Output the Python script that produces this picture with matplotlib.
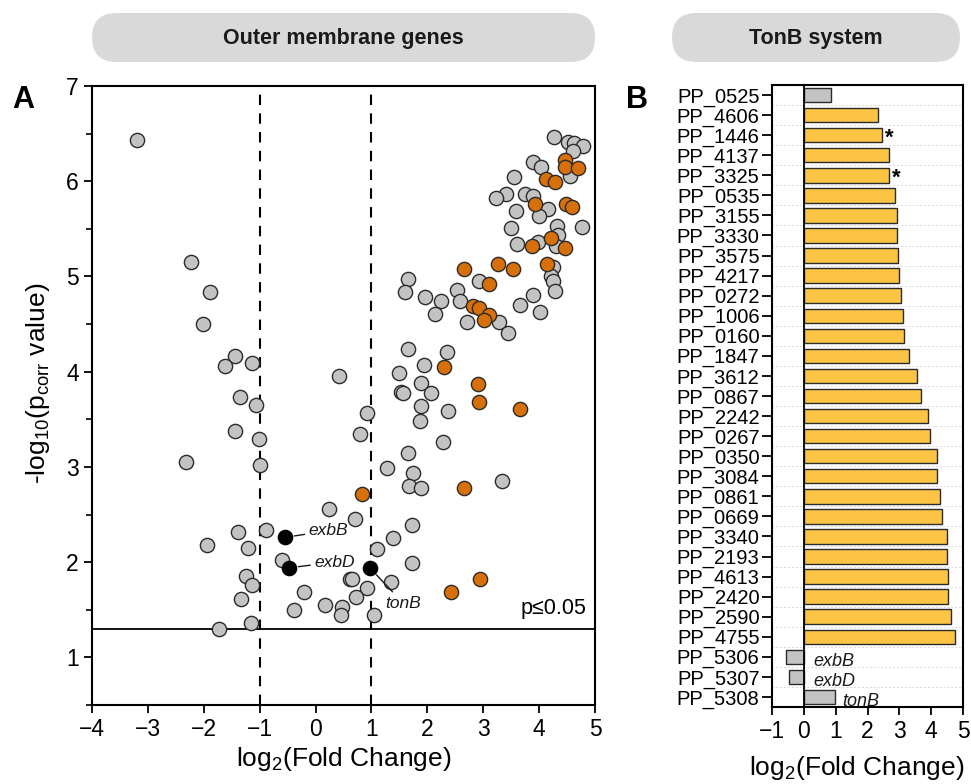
import numpy as np
import matplotlib
matplotlib.use("Agg")
import matplotlib.pyplot as plt
from matplotlib.patches import FancyBboxPatch

plt.rcParams['font.family'] = ['Liberation Sans', 'DejaVu Sans']
plt.rcParams['mathtext.fontset'] = 'custom'
plt.rcParams['mathtext.rm'] = 'Liberation Sans'
plt.rcParams['mathtext.it'] = 'Liberation Sans:italic'

# --- panel A: volcano points (log2 FC, -log10 p) ---
gray_x = [-3.19, -2.22, -1.88, -2.02, -1.44, -1.62, -1.14, 0.42, -1.35, -1.06,
          -1.44, -1.02, -2.31, -1.00, 0.24, -1.39, -0.89, -1.94, -1.20, -0.60,
          -1.25, -1.13, 0.62, -0.21, -1.34, -0.38, 0.17, 0.48, 0.46, -1.16,
          -1.73, 1.66, 2.36, 1.94, 1.49, 1.88, 1.52, 1.56, 2.07, 1.89,
          2.37, 0.92, 1.86, 0.80, 2.28, 1.65, 1.28, 1.74, 1.68, 1.88,
          3.34, 0.70, 1.73, 1.38, 1.10, 1.72, 0.65, 1.35, 0.92, 0.72,
          1.04, 4.26, 4.51, 4.63, 4.78, 4.60, 3.89, 4.03, 4.56, 3.55,
          3.40, 3.23, 3.74, 3.89, 4.16, 3.58, 3.99, 4.76, 3.50, 4.32,
          4.33, 3.98, 3.61, 4.31, 4.25, 4.22, 4.25, 4.29, 1.66, 1.60,
          1.95, 2.24, 2.13, 2.53, 2.58, 2.93, 2.71, 3.29, 3.44, 3.65,
          3.89, 4.01]
gray_y = [6.43, 5.15, 4.84, 4.50, 4.17, 4.06, 4.09, 3.96, 3.73, 3.65,
          3.38, 3.29, 3.05, 3.02, 2.56, 2.32, 2.34, 2.18, 2.15, 2.02,
          1.85, 1.76, 1.82, 1.69, 1.61, 1.50, 1.55, 1.53, 1.44, 1.36,
          1.30, 4.24, 4.21, 4.07, 3.99, 3.88, 3.79, 3.78, 3.78, 3.64,
          3.59, 3.57, 3.48, 3.35, 3.26, 3.15, 2.99, 2.94, 2.80, 2.78,
          2.85, 2.45, 2.39, 2.25, 2.14, 1.99, 1.82, 1.79, 1.73, 1.63,
          1.44, 6.46, 6.41, 6.40, 6.37, 6.32, 6.20, 6.15, 6.06, 6.04,
          5.87, 5.82, 5.87, 5.85, 5.71, 5.69, 5.63, 5.52, 5.51, 5.53,
          5.44, 5.36, 5.34, 5.32, 5.10, 5.00, 4.95, 4.85, 4.97, 4.84,
          4.78, 4.74, 4.61, 4.86, 4.74, 4.95, 4.52, 4.52, 4.41, 4.70,
          4.81, 4.63]

orange_x = [2.30, 2.90, 2.93, 3.65, 2.65, 0.83, 2.95, 2.43, 4.47, 4.47,
            4.70, 4.13, 4.29, 3.92, 4.48, 4.59, 4.22, 3.87, 4.47, 4.14,
            2.65, 3.26, 3.54, 3.10, 2.81, 2.92, 3.11, 3.02]
orange_y = [4.05, 3.87, 3.68, 3.61, 2.78, 2.72, 1.82, 1.69, 6.22, 6.15,
            6.14, 6.02, 5.99, 5.76, 5.76, 5.73, 5.40, 5.32, 5.30, 5.13,
            5.08, 5.13, 5.08, 4.92, 4.69, 4.67, 4.60, 4.54]

ton_names = ['exbB', 'exbD', 'tonB']
ton_x = [-0.55, -0.48, 0.97]
ton_y = [2.26, 1.94, 1.94]

# --- panel B: TonB-dependent receptors ---
genes = ['PP_0525', 'PP_4606', 'PP_1446', 'PP_4137', 'PP_3325', 'PP_0535',
         'PP_3155', 'PP_3330', 'PP_3575', 'PP_4217', 'PP_0272', 'PP_1006',
         'PP_0160', 'PP_1847', 'PP_3612', 'PP_0867', 'PP_2242', 'PP_0267',
         'PP_0350', 'PP_3084', 'PP_0861', 'PP_0669', 'PP_3340', 'PP_2193',
         'PP_4613', 'PP_2420', 'PP_2590', 'PP_4755', 'PP_5306', 'PP_5307',
         'PP_5308']
fold = [0.85, 2.32, 2.46, 2.68, 2.68, 2.85, 2.93, 2.92, 2.97, 3.00,
        3.05, 3.12, 3.14, 3.29, 3.56, 3.69, 3.91, 3.96, 4.17, 4.19,
        4.27, 4.33, 4.51, 4.51, 4.52, 4.52, 4.61, 4.76, -0.55, -0.46,
        0.99]
gray_genes = ['PP_0525', 'PP_5306', 'PP_5307', 'PP_5308']
starred = ['PP_1446', 'PP_3325']
bar_notes = {'PP_5306': 'exbB', 'PP_5307': 'exbD', 'PP_5308': 'tonB'}

GRAY = '#c3c3c3'
ORANGE = '#d7700a'
YELLOW = '#fbc445'
EDGE = '#2b2b2b'

fig = plt.figure(figsize=(9.71, 7.84), dpi=100)

# header pills drawn in pixel space
bg = fig.add_axes([0, 0, 1, 1], zorder=-1)
bg.set_xlim(0, 971)
bg.set_ylim(784, 0)
bg.axis('off')
for x0, x1, label in [(92, 595, 'Outer membrane genes'), (672, 960, 'TonB system')]:
    bg.add_patch(FancyBboxPatch((x0, 13), x1 - x0, 49,
                                boxstyle='round,pad=0,rounding_size=24.5',
                                fc='#d9d9d9', ec='none'))
    bg.text((x0 + x1) / 2, 38, label, ha='center', va='center',
            fontsize=15.5, fontweight='bold', color='#1a1a1a')

# ---- A ----
ax = fig.add_axes([92 / 971, 1 - 705 / 784, 503 / 971, 619 / 784])
ax.axvline(-1, color='black', lw=1.5, ls=(0, (5, 4)), zorder=1)
ax.axvline(1, color='black', lw=1.5, ls=(0, (5, 4)), zorder=1)
ax.axhline(-np.log10(0.05), color='black', lw=1.3, zorder=1)
ax.scatter(gray_x, gray_y, s=105, c=GRAY, edgecolors=EDGE, linewidths=1.0, zorder=3)
ax.scatter(orange_x, orange_y, s=105, c=ORANGE, edgecolors=EDGE, linewidths=1.0, zorder=4)
ax.scatter(ton_x, ton_y, s=105, c='black', edgecolors='black', linewidths=1.0, zorder=5)

ann = {'exbB': (-0.12, 2.33), 'exbD': (-0.02, 2.00), 'tonB': (1.25, 1.57)}
for name, px, py in zip(ton_names, ton_x, ton_y):
    tx, ty = ann[name]
    ax.annotate(name, xy=(px, py), xytext=(tx, ty), ha='left', va='center',
                fontsize=12.5, style='italic', color='#1a1a1a', zorder=6,
                arrowprops=dict(arrowstyle='-', color='#1a1a1a', lw=1.0,
                                shrinkA=1, shrinkB=7))
ax.text(4.85, 1.40, 'p\u22640.05', ha='right', va='bottom', fontsize=15.5)

ax.set_xlim(-4, 5)
ax.set_ylim(0.5, 7)
ax.set_xticks(range(-4, 6))
ax.set_xticklabels([str(v).replace('-', '\u2212') for v in range(-4, 6)])
ax.set_yticks(range(1, 8))
ax.set_yticks(np.arange(0.5, 7.0, 1.0), minor=True)
ax.tick_params(axis='both', which='major', labelsize=16.5, direction='out',
               length=6, width=1.3)
ax.tick_params(axis='y', which='minor', direction='out', length=4, width=1.2)
for sp in ax.spines.values():
    sp.set_linewidth(1.5)
ax.set_xlabel(r'log$_2$(Fold Change)', fontsize=19, labelpad=3)
ax.set_ylabel(r'-log$_{10}$(p$_{\rm corr}$ value)', fontsize=19)
ax.yaxis.set_label_coords(-0.08, 0.52)
fig.text(12 / 971, 1 - 100 / 784, 'A', fontsize=22, fontweight='bold', va='center')

# ---- B ----
bx = fig.add_axes([772 / 971, 1 - 707 / 784, 191 / 971, 622 / 784])
ypos = np.arange(len(genes))
colors = [GRAY if g in gray_genes else YELLOW for g in genes]
bx.barh(ypos, fold, height=0.72, color=colors, edgecolor=EDGE, linewidth=1.0, zorder=3)
bx.axvline(0, color='black', lw=1.3, zorder=4)
for y in np.arange(0.5, len(genes) - 1, 1.0):
    bx.axhline(y, color='#d8d8d8', lw=0.7, ls=(0, (2, 2)), zorder=1)
for i, (g, v) in enumerate(zip(genes, fold)):
    if g in starred:
        bx.text(v + 0.1, i + 0.15, '*', ha='left', va='center', fontsize=16,
                fontweight='bold')
    if g in bar_notes:
        bx.text(0.3 if v < 0 else v + 0.2, i + 0.25, bar_notes[g], ha='left',
                va='center', fontsize=13, style='italic', color='#1a1a1a', zorder=5)
bx.set_xlim(-1, 5)
bx.set_ylim(len(genes) - 0.5, -0.5)
bx.set_xticks(range(-1, 6))
bx.set_xticklabels([str(v).replace('-', '\u2212') for v in range(-1, 6)])
bx.set_yticks(ypos)
bx.set_yticklabels(genes)
bx.tick_params(axis='x', labelsize=16.5, direction='out', length=6, width=1.3)
bx.tick_params(axis='y', labelsize=14.5, direction='out', length=7, width=1.3, pad=2)
for sp in bx.spines.values():
    sp.set_linewidth(1.5)
bx.set_xlabel(r'log$_2$(Fold Change)', fontsize=19, labelpad=3)
bx.xaxis.set_label_coords(0.445, -0.075)
fig.text(626 / 971, 1 - 100 / 784, 'B', fontsize=22, fontweight='bold', va='center')

fig.savefig('out.png', dpi=100)
